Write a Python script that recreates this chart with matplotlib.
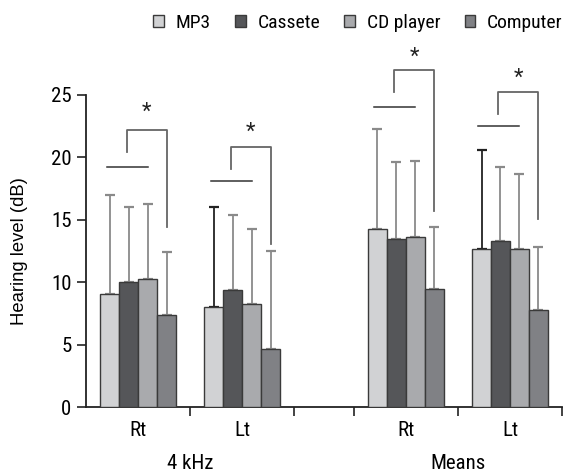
import matplotlib
matplotlib.use("Agg")
import matplotlib.pyplot as plt
import matplotlib.font_manager as fm
import matplotlib.transforms as mtransforms
import numpy as np
from matplotlib.patches import Patch

available = {f.name for f in fm.fontManager.ttflist}
condensed = [n for n in ["Roboto Condensed", "Liberation Sans Narrow", "Open Sans Condensed",
                         "DejaVu Sans Condensed", "Noto Sans Condensed"] if n in available]
if condensed:
    main_font = [condensed[0], "DejaVu Sans"]
    scale = 1.0
else:
    main_font = ["Roboto", "DejaVu Sans"]
    scale = 0.88
plt.rcParams['font.family'] = main_font

series = ["MP3", "Cassete", "CD player", "Computer"]
categories = ["Rt", "Lt", "Rt", "Lt"]
groups = ["4 kHz", "Means"]

mp3 = [9.1, 8.0, 14.3, 12.7]
cassete = [10.0, 9.4, 13.5, 13.3]
cd_player = [10.3, 8.3, 13.6, 12.7]
computer = [7.4, 4.7, 9.5, 7.8]

mp3_sd = [7.9, 8.0, 8.0, 7.9]
cassete_sd = [6.0, 6.0, 6.1, 5.9]
cd_player_sd = [6.0, 6.0, 6.1, 6.0]
computer_sd = [5.0, 7.8, 4.9, 5.0]

# significance annotations (per category)
sig_line_y = [19.2, 18.1, 24.0, 22.5]
sig_left_y = [20.4, 19.1, 25.2, 23.5]
sig_top_y = [22.2, 20.8, 27.0, 25.2]
sig_right_y = [14.4, 13.1, 15.7, 15.1]
sig_star_y = [23.6, 22.0, 28.0, 26.3]

values = [mp3, cassete, cd_player, computer]
sds = [mp3_sd, cassete_sd, cd_player_sd, computer_sd]
colors = ["#d1d2d4", "#555659", "#a9aaad", "#808185"]
ecolors = [["#8a8a8a", "#222222", "#8a8a8a", "#222222"],
           ["#8a8a8a"] * 4, ["#8a8a8a"] * 4, ["#8a8a8a"] * 4]

centers = np.array([0.5, 1.5, 3.07, 4.07])
bounds = [1, 2, 2.57, 3.57, 4.57]
group_pos = [1.0, 3.57]
bw = 0.182

fig = plt.figure(figsize=(5.63, 4.74), dpi=100)
ax = fig.add_axes([0.1528, 0.1407, 0.8455, 0.659])

for i, (vals, sd) in enumerate(zip(values, sds)):
    x = centers + (i - 1.5) * bw
    ax.bar(x, vals, width=bw, color=colors[i], edgecolor="#3a3a3a", linewidth=1.0,
           label=series[i], zorder=3)
    for j in range(len(x)):
        ax.errorbar(x[j], vals[j], yerr=[[0], [sd[j]]], fmt="none",
                    ecolor=ecolors[i][j], elinewidth=1.3, capsize=3.5, capthick=1.6,
                    zorder=2)

for j, c in enumerate(centers):
    xm = c - 1.5 * bw
    xc = c + 0.5 * bw
    xl = c - 0.5 * bw - 0.02
    xr = c + 1.5 * bw
    ax.plot([xm - 0.03, xc], [sig_line_y[j]] * 2, color="#333333", lw=1.1, clip_on=False)
    ax.plot([xl, xl, xr, xr],
            [sig_left_y[j], sig_top_y[j], sig_top_y[j], sig_right_y[j]],
            color="#666666", lw=1.3, clip_on=False)
    ax.text((xl + xr) / 2, sig_star_y[j], "*", ha="center", va="center",
            fontsize=16, color="#222222", clip_on=False)

ax.set_xlim(0, 4.57)
ax.set_ylim(0, 25)
ax.set_yticks([0, 5, 10, 15, 20, 25])
ax.tick_params(axis="y", length=6.5, width=1.2, labelsize=15 * scale, pad=4, color="#222222")
ax.set_xticks(centers)
ax.set_xticklabels(categories)
ax.tick_params(axis="x", which="major", length=0, labelsize=15 * scale, pad=10)
ax.set_xticks(bounds, minor=True)
ax.tick_params(axis="x", which="minor", length=6.5, width=1.2, color="#222222")
for s in ["top", "right"]:
    ax.spines[s].set_visible(False)
for s in ["left", "bottom"]:
    ax.spines[s].set_linewidth(1.3)
    ax.spines[s].set_color("#222222")

ax.set_ylabel("Hearing level (dB)", fontsize=13.3, family=["Liberation Sans", "DejaVu Sans"])
ax.yaxis.set_label_coords(-0.122, 0.5)

group_tr = mtransforms.blended_transform_factory(ax.transData, fig.transFigure)
for g, gx in zip(groups, group_pos):
    ax.text(gx, 0.6 / 474, g, transform=group_tr, ha="center", va="bottom",
            fontsize=15 * scale)

handles = [Patch(facecolor=colors[i], edgecolor="#3a3a3a", linewidth=1.0) for i in range(4)]
fig.legend(handles, series, loc="center left", bbox_to_anchor=(0.272, 0.952), ncol=4,
           frameon=False, fontsize=14 * scale, handlelength=0.55, handleheight=0.55,
           handletextpad=0.6, columnspacing=1.25, borderaxespad=0, borderpad=0)

fig.savefig("out.png", dpi=100)
